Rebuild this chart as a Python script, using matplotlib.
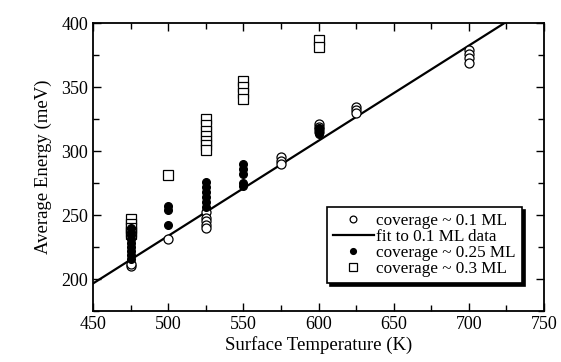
import matplotlib.pyplot as plt
import numpy as np

plt.rcParams['font.family'] = ['Liberation Serif', 'DejaVu Serif']

# coverage ~ 0.1 ML (open circles)
t1 = [475, 475, 500, 525, 525, 525, 525, 525, 575, 575, 575,
      600, 600, 600, 600, 625, 625, 625, 700, 700, 700, 700]
e1 = [210, 212, 231, 252, 248, 245, 242, 240, 295, 292, 290,
      321, 319, 317, 315, 334, 332, 330, 379, 376, 373, 369]

# coverage ~ 0.25 ML (filled circles)
t2 = [475, 475, 475, 475, 475, 475, 475, 475, 475, 500, 500, 500,
      525, 525, 525, 525, 525, 525, 550, 550, 550, 550, 550, 600, 600, 600]
e2 = [216, 219, 222, 225, 228, 231, 234, 237, 240, 257, 254, 242,
      276, 272, 268, 264, 260, 256, 290, 286, 282, 275, 273, 318, 315, 313]

# coverage ~ 0.3 ML (open squares)
t3 = [475, 475, 475, 475, 475, 500, 525, 525, 525, 525, 525, 525, 525,
      550, 550, 550, 550, 600, 600]
e3 = [247, 243, 240, 237, 235, 281, 325, 320, 316, 312, 308, 305, 301,
      355, 350, 345, 341, 387, 381]

# linear fit to the 0.1 ML data
fit_t = [450, 750]
fit_e = [196.5, 419.5]

fig = plt.figure(figsize=(5.61, 3.62), dpi=100)
ax = fig.add_axes([93/561, 1 - 311/362, (544-93)/561, (311-23)/362])

ax.plot(t1, e1, 'o', mfc='white', mec='black', ms=6.5, mew=0.9, ls='none',
        label='coverage ~ 0.1 ML', zorder=3)
ax.plot(fit_t, fit_e, '-', color='black', lw=1.6, label='fit to 0.1 ML data', zorder=2)
ax.plot(t2, e2, 'o', mfc='black', mec='black', ms=5.5, ls='none',
        label='coverage ~ 0.25 ML', zorder=4)
ax.plot(t3, e3, 's', mfc='white', mec='black', ms=7, mew=0.9, ls='none',
        label='coverage ~ 0.3 ML', zorder=3)

ax.set_xlim(450, 750)
ax.set_ylim(175, 400)
ax.set_xticks(np.arange(450, 751, 50))
ax.set_xticks(np.arange(475, 750, 50), minor=True)
ax.set_yticks(np.arange(200, 401, 50))
ax.set_yticks(np.arange(175, 400, 50), minor=True)
ax.tick_params(which='both', direction='in', top=True, right=True, labelsize=13)
ax.tick_params(which='major', length=6, width=1)
ax.tick_params(which='minor', length=4, width=1)
for s in ax.spines.values():
    s.set_linewidth(1.3)

ax.set_xlabel('Surface Temperature (K)', fontsize=13.5, labelpad=2)
ax.set_ylabel('Average Energy (meV)', fontsize=13.5, labelpad=7)

leg = ax.legend(loc='lower right', fontsize=12.3, frameon=True, fancybox=False,
                shadow={'color': 'black', 'alpha': 1}, edgecolor='black',
                handlelength=2.4, handletextpad=0.15, markerscale=0.75,
                labelspacing=0.0, borderpad=0.35, borderaxespad=0,
                bbox_to_anchor=(0.951, 0.097))
leg.get_frame().set_linewidth(1.2)

fig.savefig('out.png', dpi=100)
